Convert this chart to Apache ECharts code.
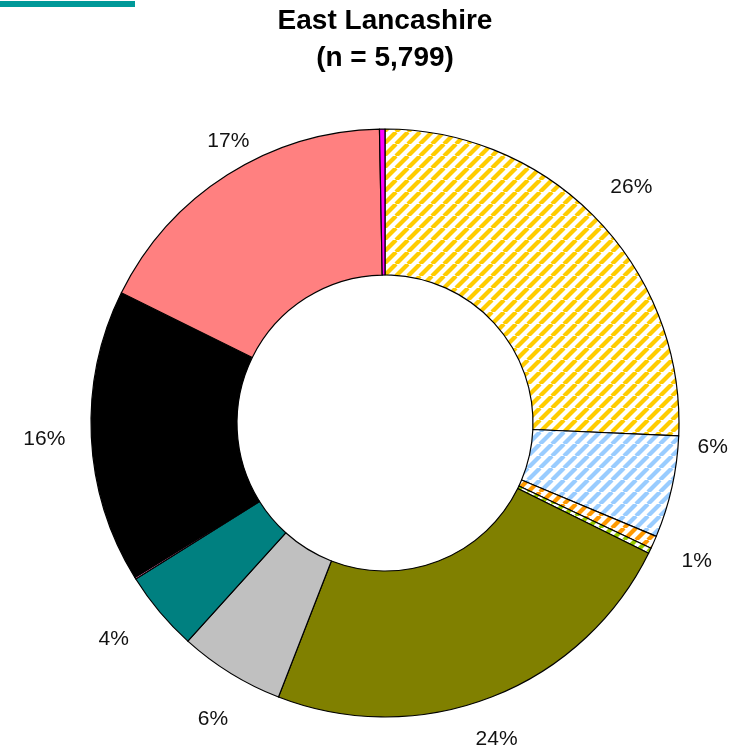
<!DOCTYPE html>
<html>
<head>
<meta charset="utf-8">
<script src="https://cdn.jsdelivr.net/npm/echarts@6/dist/echarts.min.js"></script>
<style>
	html, body { margin: 0; padding: 0; background: #ffffff; }
	#chart { width: 740px; height: 750px; }
</style>
</head>
<body>
<div id="chart"></div>
<script>
// slices clockwise from 12 o'clock, share of total in percent
var sliceNames = ['A', 'B', 'C', 'D', 'E', 'F', 'G', 'H', 'I', 'J', 'K'];
var sliceValues = [25.7, 5.6, 0.7, 0.3, 23.6, 5.8, 4.4, 0.1, 16.1, 17.4, 0.3];
var sliceColors = ['#ffcc00', '#99ccff', '#ff9900', '#99cc00', '#808000', '#c0c0c0', '#008080', '#ff80c0', '#000000', '#ff8080', '#ff00ff'];
var sliceHatched = [true, true, true, true, false, false, false, false, false, false, false];

// small nudges so the labels sit where the original placed them (dx, dy in px)
var labelNudge = { 1: [-5, -50], 4: [-12, -2], 5: [7, 6], 6: [-10, -3], 9: [26, 6] };

/** builds a repeating diagonal stripe pattern ("/") on white */
function makeStripes(pColor) {
	var size = 12;
	var canvas = document.createElement('canvas');
	canvas.width = size;
	canvas.height = size;
	var ctx = canvas.getContext('2d');
	ctx.fillStyle = '#ffffff';
	ctx.fillRect(0, 0, size, size);
	ctx.strokeStyle = pColor;
	ctx.lineWidth = 4.2;
	for (var k = -1; k <= 1; k++) {
		ctx.beginPath();
		ctx.moveTo(k * size, size);
		ctx.lineTo((k + 1) * size, 0);
		ctx.stroke();
	}
	return { image: canvas, repeat: 'repeat' };
}

var pieData = sliceNames.map(function (n, i) {
	return {
		name: n,
		value: sliceValues[i],
		itemStyle: { color: sliceHatched[i] ? makeStripes(sliceColors[i]) : sliceColors[i] }
	};
});

var labelData = sliceNames.map(function (n, i) {
	return { name: n, value: sliceValues[i] };
});

var chart = echarts.init(document.getElementById('chart'), null, { renderer: 'canvas' });
chart.setOption({
	backgroundColor: '#ffffff',
	animation: false,
	title: {
		text: 'East Lancashire\n(n = 5,799)',
		left: 380,
		top: -2,
		textAlign: 'center',
		textStyle: {
			fontFamily: 'Liberation Sans, Arial, sans-serif',
			fontWeight: 'bold',
			fontSize: 28,
			lineHeight: 37,
			color: '#000000'
		}
	},
	graphic: [
		{ type: 'rect', left: 0, top: 1, shape: { width: 135, height: 6 }, style: { fill: '#009999' } }
	],
	series: [
		{
			type: 'pie',
			center: [385, 423],
			radius: [148, 294],
			startAngle: 90,
			clockwise: true,
			avoidLabelOverlap: false,
			minAngle: 0,
			label: { show: false },
			labelLine: { show: false },
			itemStyle: { borderColor: '#000000', borderWidth: 1.2 },
			emphasis: { disabled: true },
			data: pieData
		},
		{
			// transparent ring that only carries the percent labels
			type: 'pie',
			center: [385, 423],
			radius: [318, 358],
			startAngle: 90,
			clockwise: true,
			silent: true,
			avoidLabelOverlap: false,
			itemStyle: { color: 'rgba(0,0,0,0)', borderWidth: 0 },
			label: {
				show: true,
				position: 'inside',
				fontFamily: 'Liberation Sans, Arial, sans-serif',
				fontSize: 21,
				color: '#111111',
				formatter: function (p) {
					var v = Math.round(p.value);
					return v >= 1 ? v + '%' : '';
				}
			},
			labelLayout: function (params) {
				var n = labelNudge[params.dataIndex];
				return n ? { dx: n[0], dy: n[1] } : {};
			},
			labelLine: { show: false },
			emphasis: { disabled: true },
			data: labelData
		}
	]
});
</script>
</body>
</html>
